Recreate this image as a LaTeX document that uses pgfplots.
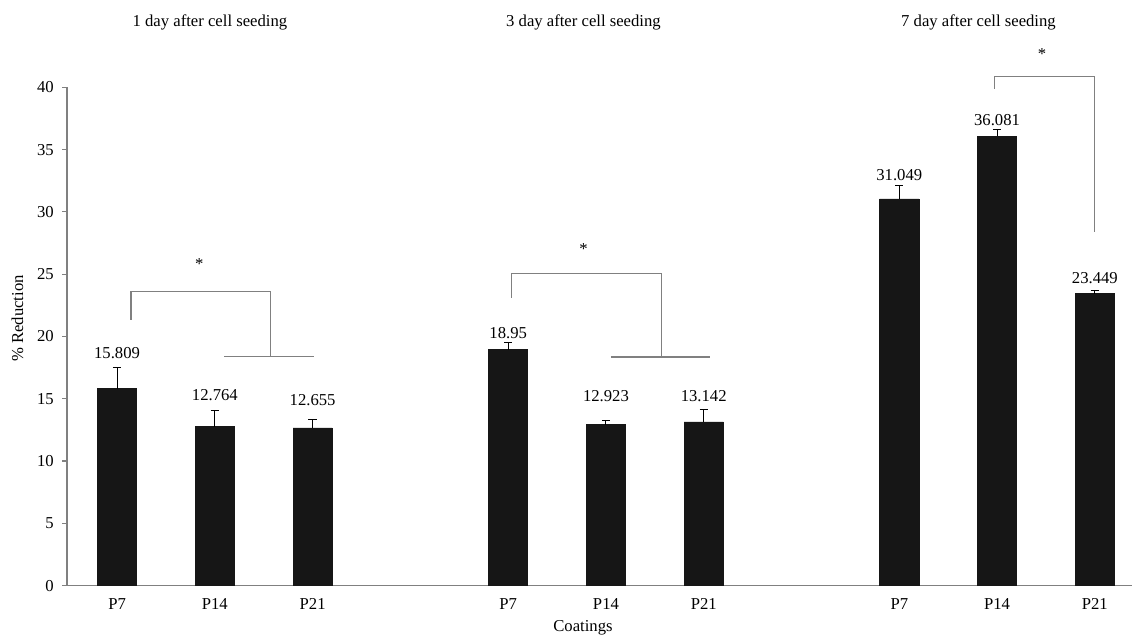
\documentclass[border=0pt]{standalone}
\usepackage{fontspec}
\setmainfont{Liberation Serif}
\usepackage{pgfplots}
\usepackage{pgfplotstable}
\pgfplotsset{compat=1.18}

\definecolor{axisgray}{RGB}{128,128,128}
\definecolor{barfill}{RGB}{22,22,22}

% mean reduction, standard deviation, and label lift above the bar
\pgfplotstableread{
x  y       err   off
1  15.809  1.69  2.43
2  12.764  1.31  2.08
3  12.655  0.72  1.78
5  18.95   0.59  0.89
6  12.923  0.37  1.85
7  13.142  0.99  1.66
9  31.049  1.06  1.49
10 36.081  0.54  0.83
11 23.449  0.26  0.83
}\reduction

\begin{document}
\begin{tikzpicture}
\useasboundingbox (-40.2pt,-30.2pt) rectangle (639pt,351.4pt);
\begin{axis}[
  at={(0,0)}, anchor=south west,
  scale only axis, width=639pt, height=299pt,
  xmin=0.488, xmax=11.38, ymin=0, ymax=40,
  axis x line=bottom, axis y line=left,
  axis line style={axisgray, line width=0.7pt, -},
  ytick={0,5,...,40},
  xtick={1,2,3,5,6,7,9,10,11},
  xticklabels={P7,P14,P21,P7,P14,P21,P7,P14,P21},
  tick align=outside,
  major tick length=3pt,
  ytick style={axisgray, line width=0.7pt},
  xtick style={draw=none},
  ticklabel style={font=\fontsize{10}{12}\selectfont},
  /pgf/number format/assume math mode=true,
  yticklabel shift=1.4pt,
  xticklabel shift=1pt,
  xlabel={Coatings},
  ylabel={\% Reduction},
  label style={font=\fontsize{10}{12}\selectfont},
  x label style={at={(axis description cs:0.4845,-0.0849)}, anchor=center},
  y label style={at={(axis description cs:-0.0466,0.536)}, anchor=center},
  clip=false,
]
\addplot[ybar, bar width=0.4, fill=barfill, draw=barfill,
  point meta=explicit symbolic,
  visualization depends on={\thisrow{off} \as \labeloff},
  nodes near coords,
  nodes near coords style={anchor=base, inner sep=0pt,
    font=\fontsize{10}{12}\selectfont, text=black,
    shift={(axis direction cs:0,\labeloff)}},
  error bars/.cd, y dir=plus, y explicit,
  error bar style={black, line width=0.6pt},
  error mark options={black, line width=0.6pt, mark size=2.5pt, rotate=90},
] table[x=x, y=y, y error=err, meta=y] {\reduction};

% significance brackets
\draw[axisgray, line width=0.7pt] (axis cs:1.143,21.34) |- (axis cs:2.565,23.61) -- (axis cs:2.565,18.37);
\draw[axisgray, line width=0.7pt] (axis cs:2.095,18.37) -- (axis cs:3.01,18.37);
\node[font=\fontsize{10}{12}\selectfont] at (axis cs:1.84,25.8) {*};

\draw[axisgray, line width=0.7pt] (axis cs:5.03,23.1) |- (axis cs:6.571,25.05) -- (axis cs:6.571,18.36);
\draw[axisgray, line width=0.7pt] (axis cs:6.05,18.36) -- (axis cs:7.06,18.36);
\node[font=\fontsize{10}{12}\selectfont] at (axis cs:5.77,27.0) {*};

\draw[axisgray, line width=0.7pt] (axis cs:9.97,39.89) |- (axis cs:11.0,40.9) -- (axis cs:11.0,28.39);
\node[font=\fontsize{10}{12}\selectfont] at (axis cs:10.46,42.7) {*};

% panel titles
\node[font=\fontsize{10}{12}\selectfont] at (axis cs:1.95,45.24) {1 day after cell seeding};
\node[font=\fontsize{10}{12}\selectfont] at (axis cs:5.77,45.24) {3 day after cell seeding};
\node[font=\fontsize{10}{12}\selectfont] at (axis cs:9.81,45.24) {7 day after cell seeding};
\end{axis}
\end{tikzpicture}
\end{document}
